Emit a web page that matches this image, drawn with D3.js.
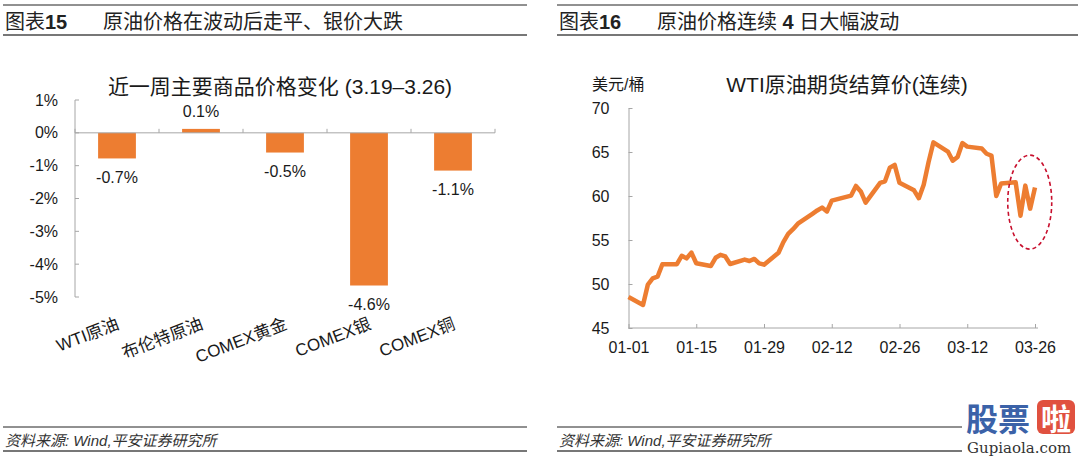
<!DOCTYPE html>
<html>
<head>
<meta charset="utf-8">
<script src="https://cdn.jsdelivr.net/npm/d3@7"></script>
<style>
  body { margin: 0; background: #fff; }
  svg { display: block; font-family: "Liberation Sans", Arial, "Noto Sans CJK SC", sans-serif; }
</style>
</head>
<body>
<svg id="svg" width="1080" height="459"></svg>
<script>
// ****************************************
// Data

var categories = ['WTI原油', '布伦特原油', 'COMEX黄金', 'COMEX银', 'COMEX铜'];
var changes = [-0.78, 0.12, -0.6, -4.65, -1.15];
var change_labels = ['-0.7%', '0.1%', '-0.5%', '-4.6%', '-1.1%'];
var pct_ticks = [1, 0, -1, -2, -3, -4, -5];

var wti_dates = ['2021-01-01','2021-01-04','2021-01-05','2021-01-06','2021-01-07','2021-01-08','2021-01-11','2021-01-12','2021-01-13','2021-01-14','2021-01-15','2021-01-18','2021-01-19','2021-01-20','2021-01-21','2021-01-22','2021-01-25','2021-01-26','2021-01-27','2021-01-28','2021-01-29','2021-02-01','2021-02-02','2021-02-03','2021-02-04','2021-02-05','2021-02-08','2021-02-09','2021-02-10','2021-02-11','2021-02-12','2021-02-16','2021-02-17','2021-02-18','2021-02-19','2021-02-22','2021-02-23','2021-02-24','2021-02-25','2021-02-26','2021-03-01','2021-03-02','2021-03-03','2021-03-04','2021-03-05','2021-03-08','2021-03-09','2021-03-10','2021-03-11','2021-03-12','2021-03-15','2021-03-16','2021-03-17','2021-03-18','2021-03-19','2021-03-22','2021-03-23','2021-03-24','2021-03-25','2021-03-26'];
var wti_prices = [48.52,47.62,49.93,50.63,50.83,52.24,52.25,53.21,52.91,53.57,52.36,52.04,52.98,53.31,53.13,52.27,52.77,52.61,52.85,52.34,52.20,53.55,54.76,55.69,56.23,56.85,57.97,58.36,58.68,58.24,59.47,60.05,61.14,60.52,59.24,61.49,61.67,63.22,63.53,61.50,60.64,59.75,61.28,63.83,66.09,65.05,64.01,64.44,66.02,65.61,65.39,64.80,64.60,60.00,61.42,61.55,57.76,61.18,58.56,60.97];
var wti_ticks = ['2021-01-01','2021-01-15','2021-01-29','2021-02-12','2021-02-26','2021-03-12','2021-03-26'];
var price_ticks = [45, 50, 55, 60, 65, 70];

var orange = '#ED7D31';
var axis_color = '#a6a6a6';
var text_color = '#1a1a1a';

var svg = d3.select('#svg');
var parse = d3.timeParse('%Y-%m-%d');

// ****************************************
// Headers and footers

function panel_frame(x0, x1, fig_no, title_parts, source){
  svg.append('line').attr('x1', x0).attr('x2', x1).attr('y1', 5).attr('y2', 5).style('stroke', '#222').style('stroke-width', 1);
  svg.append('line').attr('x1', x0).attr('x2', x1).attr('y1', 35).attr('y2', 35).style('stroke', '#777').style('stroke-width', 2);
  var t = svg.append('text').attr('x', x0 + 2).attr('y', 22).attr('dominant-baseline', 'central').style('font-size', '20px').style('fill', '#222');
  t.append('tspan').text('图表');
  t.append('tspan').style('font-weight', 'bold').text(fig_no);
  var t2 = svg.append('text').attr('x', x0 + 100).attr('y', 22).attr('dominant-baseline', 'central').style('font-size', '20px').style('fill', '#222');
  title_parts.forEach(p => { t2.append('tspan').style('font-weight', p[1] ? 'bold' : 'normal').text(p[0]); });

  svg.append('line').attr('x1', x0).attr('x2', x1).attr('y1', 427).attr('y2', 427).style('stroke', '#222').style('stroke-width', 1);
  svg.append('line').attr('x1', x0).attr('x2', x1).attr('y1', 451).attr('y2', 451).style('stroke', '#777').style('stroke-width', 2);
  svg.append('text').attr('x', x0 + 2).attr('y', 440).attr('dominant-baseline', 'central')
    .style('font-size', '15px').style('font-style', 'italic').style('fill', '#333').text(source);
}

panel_frame(3, 527, '15', [['原油价格在波动后走平、银价大跌', false]], '资料来源: Wind,平安证券研究所');
panel_frame(557, 1078, '16', [['原油价格连续 ', false], ['4', true], [' 日大幅波动', false]], '资料来源: Wind,平安证券研究所');

// ****************************************
// Left chart: bars

var x_band = d3.scaleBand().domain(categories).range([75, 495]).paddingInner(0.55).paddingOuter(0.275);
var y_pct = d3.scaleLinear().domain([-5, 1]).range([297, 100]);

svg.append('text').attr('x', 280).attr('y', 86).attr('text-anchor', 'middle').attr('dominant-baseline', 'central')
  .style('font-size', '21px').style('fill', text_color).text('近一周主要商品价格变化 (3.19–3.26)');

var left = svg.append('g');
left.selectAll('rect').data(changes).enter().append('rect')
  .attr('x', (d, i) => x_band(categories[i]))
  .attr('width', x_band.bandwidth())
  .attr('y', d => y_pct(Math.max(d, 0)))
  .attr('height', d => Math.abs(y_pct(d) - y_pct(0)))
  .style('fill', orange);

// y axis
left.append('line').attr('x1', 75).attr('x2', 75).attr('y1', y_pct(1)).attr('y2', y_pct(-5)).style('stroke', axis_color);
pct_ticks.forEach(v => {
  left.append('line').attr('x1', 75).attr('x2', 79).attr('y1', y_pct(v)).attr('y2', y_pct(v)).style('stroke', axis_color);
  left.append('text').attr('x', 58).attr('y', y_pct(v)).attr('dy', '0.35em').attr('text-anchor', 'end')
    .style('font-size', '16px').style('fill', text_color).text(v + '%');
});

// x axis on zero line
left.append('line').attr('x1', 75).attr('x2', 495).attr('y1', y_pct(0)).attr('y2', y_pct(0)).style('stroke', axis_color);
d3.range(categories.length + 1).forEach(i => {
  var bx = x_band.range()[0] + i * x_band.step();
  left.append('line').attr('x1', bx).attr('x2', bx).attr('y1', y_pct(0)).attr('y2', y_pct(0) - 4).style('stroke', axis_color);
});

// value labels
changes.forEach((d, i) => {
  var cx = x_band(categories[i]) + x_band.bandwidth() / 2;
  left.append('text').attr('x', cx).attr('y', d < 0 ? y_pct(d) + 19 : y_pct(d) - 17)
    .attr('text-anchor', 'middle').attr('dominant-baseline', 'central')
    .style('font-size', '16px').style('fill', text_color).text(change_labels[i]);
});

// category labels, rotated
categories.forEach(c => {
  var cx = x_band(c) + x_band.bandwidth() / 2;
  left.append('text').attr('transform', 'translate(' + (cx - 2) + ',315) rotate(-21)')
    .attr('text-anchor', 'end').attr('dy', '0.85em')
    .style('font-size', '17px').style('fill', text_color).text(c);
});

// ****************************************
// Right chart: WTI line

var x_time = d3.scaleTime().domain([parse('2021-01-01'), parse('2021-03-26')]).range([628.5, 1035]);
var y_price = d3.scaleLinear().domain([45, 70]).range([328, 108]);

svg.append('text').attr('x', 847).attr('y', 84).attr('text-anchor', 'middle').attr('dominant-baseline', 'central')
  .style('font-size', '21px').style('fill', text_color).text('WTI原油期货结算价(连续)');
svg.append('text').attr('x', 592).attr('y', 84).attr('dominant-baseline', 'central')
  .style('font-size', '16px').style('fill', text_color).text('美元/桶');

var right = svg.append('g');

var x_axis = right.append('g').attr('transform', 'translate(0,' + y_price(45) + ')')
  .call(d3.axisBottom(x_time).tickValues(wti_ticks.map(parse)).tickFormat(d3.timeFormat('%m-%d')).tickSizeInner(-4).tickSizeOuter(0).tickPadding(14));
var y_axis = right.append('g').attr('transform', 'translate(' + x_time.range()[0] + ',0)')
  .call(d3.axisLeft(y_price).tickValues(price_ticks).tickSizeInner(-4).tickSizeOuter(0).tickPadding(19));

[x_axis, y_axis].forEach(a => {
  a.select('.domain').style('stroke', axis_color);
  a.selectAll('.tick line').style('stroke', axis_color);
  a.selectAll('.tick text').style('font-size', '16px').style('fill', text_color).style('font-family', '"Liberation Sans", Arial, sans-serif');
});
x_axis.select('.domain').attr('d', 'M' + x_time.range()[0] + ',0H' + (x_time.range()[1] + 3));

var line = d3.line().x((d, i) => x_time(parse(wti_dates[i]))).y(d => y_price(d));
right.append('path').datum(wti_prices).attr('d', line)
  .style('fill', 'none').style('stroke', orange).style('stroke-width', 4.5).style('stroke-linejoin', 'round');

// red dashed ring around the last four days
var last_days = wti_dates.slice(-4).map(parse);
var ring_cx = (x_time(last_days[0]) + x_time(last_days[3])) / 2;
right.append('ellipse').attr('cx', ring_cx + 2).attr('cy', y_price(59.3)).attr('rx', 22).attr('ry', 47)
  .style('fill', 'none').style('stroke', '#c8102e').style('stroke-width', 1.6).style('stroke-dasharray', '4 3');

// ****************************************
// Watermark

var wm = svg.append('g');
wm.append('rect').attr('x', 962).attr('y', 398).attr('width', 118).attr('height', 61).style('fill', '#fff');
wm.append('text').attr('x', 966).attr('y', 417).attr('dominant-baseline', 'central')
  .style('font-size', '32px').style('font-weight', 'bold').style('fill', '#3b62a8')
  .style('font-family', '"Noto Sans CJK SC", sans-serif').text('股票');
wm.append('rect').attr('x', 1037).attr('y', 400).attr('width', 38).attr('height', 34).attr('rx', 6).style('fill', '#e0513f');
wm.append('text').attr('x', 1056).attr('y', 417).attr('text-anchor', 'middle').attr('dominant-baseline', 'central')
  .style('font-size', '30px').style('font-weight', 'bold').style('fill', '#fff')
  .style('font-family', '"Noto Sans CJK SC", sans-serif').text('啦');
wm.append('text').attr('x', 967).attr('y', 448).attr('dominant-baseline', 'central')
  .style('font-size', '15px').style('fill', '#333').style('font-family', '"DejaVu Serif", serif').text('Gupiaola.com');
</script>
</body>
</html>
